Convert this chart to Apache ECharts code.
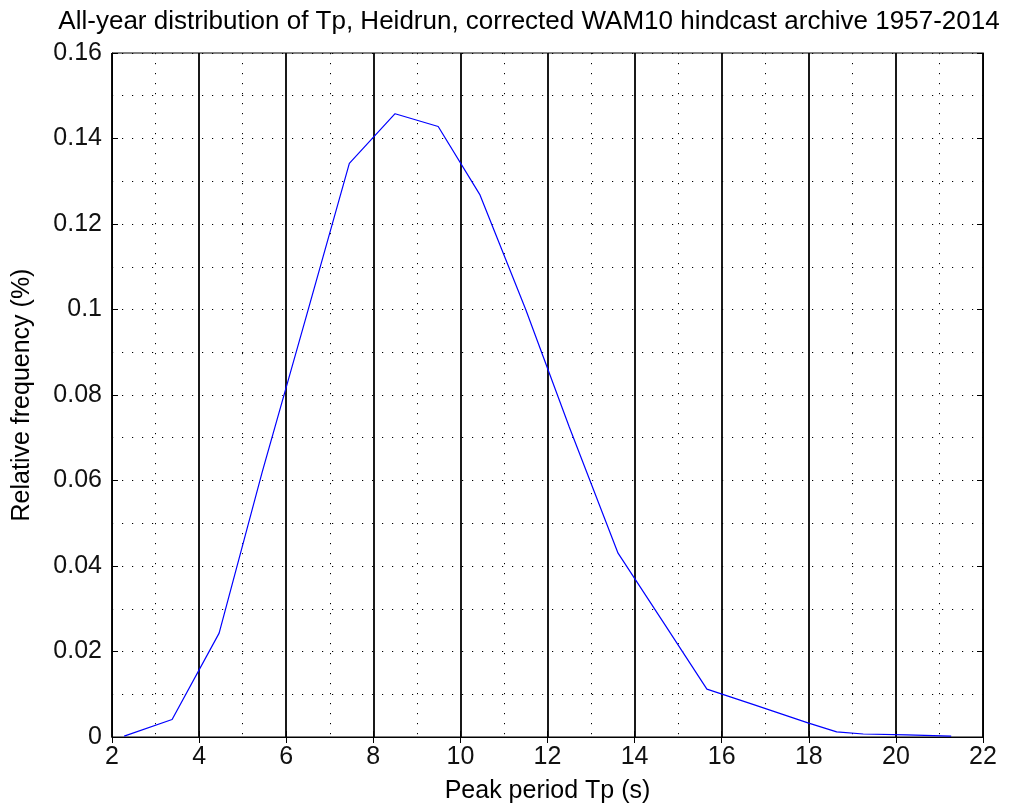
<!DOCTYPE html>
<html>
<head>
<meta charset="utf-8">
<script src="https://cdn.jsdelivr.net/npm/echarts@6/dist/echarts.min.js"></script>
<style>
html,body{margin:0;padding:0;background:#fff;}
#chart{width:1016px;height:812px;}
</style>
</head>
<body>
<div id="chart"></div>
<script>
var titleText = 'All-year distribution of Tp, Heidrun, corrected WAM10 hindcast archive 1957-2014';
var xAxisName = 'Peak period Tp (s)';
var yAxisName = 'Relative frequency (%)';
var tpValues = [2.28, 3.38, 4.46, 5.45, 6.45, 7.45, 8.50, 9.49, 10.45, 11.5, 12.5, 13.62, 14.65, 15.66, 16.7, 17.98, 18.64, 19.25, 20.25, 21.27];
var freqValues = [0.0002, 0.0041, 0.0243, 0.062, 0.098, 0.1342, 0.1458, 0.1428, 0.1268, 0.100, 0.0725, 0.0430, 0.0270, 0.0112, 0.0077, 0.0033, 0.0012, 0.0007, 0.0005, 0.0002];
var xMin = 2, xMax = 22, xStep = 2;
var yMin = 0, yMax = 0.16, yStep = 0.02;

var seriesData = tpValues.map(function (t, i) { return [t, freqValues[i]]; });
var font = '"Liberation Sans", Arial, sans-serif';
var dots = [1.2, 8.8];

var chart = echarts.init(document.getElementById('chart'), null, {renderer: 'canvas'});
chart.setOption({
  animation: false,
  backgroundColor: '#fff',
  title: {
    text: titleText,
    left: 524, textAlign: 'center', top: 4,
    textStyle: {fontFamily: font, fontSize: 26, fontWeight: 'normal', color: '#000'}
  },
  grid: {left: 112, right: 33, top: 53, bottom: 75, show: true, borderColor: '#000', borderWidth: 1, backgroundColor: 'transparent'},
  xAxis: [{
    type: 'value', min: xMin, max: xMax, interval: xStep, position: 'bottom',
    name: xAxisName, nameLocation: 'middle', nameGap: 42,
    nameTextStyle: {fontFamily: font, fontSize: 25, color: '#000'},
    axisLine: {show: true, lineStyle: {color: '#000', width: 1}},
    axisTick: {show: true, inside: true, length: 6, lineStyle: {color: '#000'}},
    axisLabel: {fontFamily: font, fontSize: 25, color: '#111', margin: 8},
    splitLine: {show: true, lineStyle: {color: '#000', width: 1.8, type: 'solid'}},
    minorTick: {show: false, splitNumber: 2},
    minorSplitLine: {show: true, lineStyle: {color: '#000', width: 1, type: dots}}
  }, {
    type: 'value', min: xMin, max: xMax, interval: xStep, position: 'top',
    axisLine: {show: true, lineStyle: {color: '#000'}},
    axisTick: {show: true, inside: true, length: 6, lineStyle: {color: '#000'}},
    axisLabel: {show: false}, splitLine: {show: false}
  }],
  yAxis: [{
    type: 'value', min: yMin, max: yMax, interval: yStep, position: 'left',
    name: yAxisName, nameLocation: 'middle', nameGap: 77,
    nameTextStyle: {fontFamily: font, fontSize: 25, color: '#000'},
    axisLine: {show: true, lineStyle: {color: '#000', width: 1}},
    axisTick: {show: true, inside: true, length: 6, lineStyle: {color: '#000'}},
    axisLabel: {fontFamily: font, fontSize: 25, color: '#111', margin: 10},
    splitLine: {show: true, lineStyle: {color: '#000', width: 1, type: dots}},
    minorTick: {show: false, splitNumber: 2},
    minorSplitLine: {show: true, lineStyle: {color: '#000', width: 1, type: dots}}
  }, {
    type: 'value', min: yMin, max: yMax, interval: yStep, position: 'right',
    axisLine: {show: true, lineStyle: {color: '#000'}},
    axisTick: {show: true, inside: true, length: 6, lineStyle: {color: '#000'}},
    axisLabel: {show: false}, splitLine: {show: false}
  }],
  series: [{
    type: 'line', data: seriesData, xAxisIndex: 0, yAxisIndex: 0,
    showSymbol: false, symbol: 'none',
    lineStyle: {color: '#0000ff', width: 1.2},
    z: 5
  }]
});
</script>
</body>
</html>
